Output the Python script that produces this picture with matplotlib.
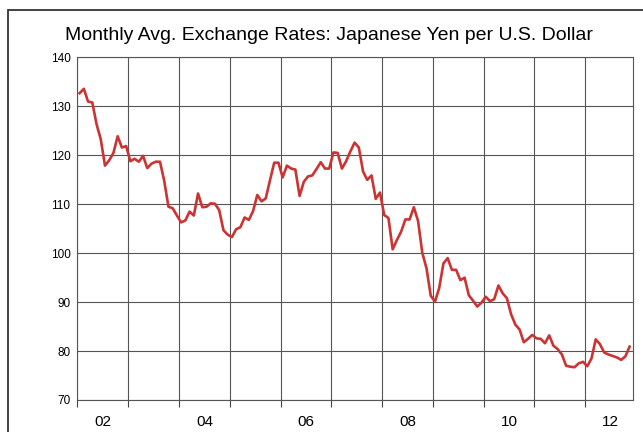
import matplotlib
matplotlib.use('Agg')
import matplotlib.pyplot as plt
from matplotlib.patches import Rectangle
import numpy as np

plt.rcParams['font.family'] = ['Liberation Sans', 'DejaVu Sans']

# Monthly average JPY per USD, Jan 2002 - Nov 2012
rates_2002 = [132.7, 133.6, 131.0, 130.8, 126.4, 123.3, 117.9, 119.0, 120.5, 123.9, 121.6, 121.9]
rates_2003 = [118.8, 119.3, 118.7, 119.9, 117.4, 118.3, 118.7, 118.7, 114.8, 109.5, 109.2, 107.7]
rates_2004 = [106.3, 106.7, 108.5, 107.7, 112.2, 109.4, 109.5, 110.2, 110.1, 108.8, 104.7, 103.8]
rates_2005 = [103.3, 104.9, 105.3, 107.3, 106.8, 108.6, 111.9, 110.6, 111.2, 114.9, 118.5, 118.5]
rates_2006 = [115.5, 117.9, 117.3, 117.1, 111.7, 114.6, 115.7, 115.9, 117.2, 118.6, 117.3, 117.3]
rates_2007 = [120.6, 120.5, 117.3, 118.8, 120.8, 122.6, 121.6, 116.7, 115.0, 115.9, 111.1, 112.4]
rates_2008 = [107.8, 107.2, 100.8, 102.7, 104.4, 106.9, 106.9, 109.4, 106.6, 100.1, 96.9, 91.3]
rates_2009 = [90.1, 92.9, 97.9, 99.0, 96.6, 96.6, 94.5, 95.0, 91.4, 90.3, 89.1, 89.9]
rates_2010 = [91.1, 90.2, 90.6, 93.4, 91.8, 90.8, 87.5, 85.4, 84.4, 81.8, 82.5, 83.3]
rates_2011 = [82.6, 82.5, 81.6, 83.2, 81.1, 80.4, 79.3, 77.0, 76.8, 76.7, 77.5, 77.8]
rates_2012 = [76.9, 78.5, 82.4, 81.4, 79.7, 79.3, 79.0, 78.7, 78.2, 78.9, 80.9]

year_labels = ['02', '04', '06', '08', '10', '12']
y_ticks = [70, 80, 90, 100, 110, 120, 130, 140]

rates = (rates_2002 + rates_2003 + rates_2004 + rates_2005 + rates_2006 + rates_2007
         + rates_2008 + rates_2009 + rates_2010 + rates_2011 + rates_2012)
months = np.arange(len(rates)) + 0.5

fig = plt.figure(figsize=(6.43, 4.32), dpi=100)
ax = fig.add_axes([0.1205, 0.0741, 0.8639, 0.7928])

# outer frame around the whole chart
fig.add_artist(Rectangle((8 / 643, -0.1), 1.2, 1 - 10 / 432 + 0.1,
                         transform=fig.transFigure, fill=False,
                         edgecolor='#333333', linewidth=1.3))

ax.plot(months, rates, color='#cc3333', linewidth=1.9, zorder=3)

ax.set_xlim(0, 131.3)
ax.set_ylim(70, 140)

# year boundaries carry grid lines and ticks, labels sit mid-year
ax.set_xticks(np.arange(0, 132, 12))
ax.set_xticklabels([])
ax.set_xticks(np.arange(6, 132, 24), minor=True)
ax.set_xticklabels(year_labels, minor=True)
ax.tick_params(axis='x', which='major', length=5, width=0.8, color='#444444', direction='out')
ax.tick_params(axis='x', which='minor', length=0, pad=11, labelsize=11)

ax.set_yticks(y_ticks)
ax.tick_params(axis='y', length=0, pad=5, labelsize=8.5)

ax.grid(True, which='major', color='#555555', linewidth=0.8)
for side in ['left', 'right', 'top', 'bottom']:
    ax.spines[side].set_color('#555555')
    ax.spines[side].set_linewidth(0.8)

fig.text(0.511, 0.918, 'Monthly Avg. Exchange Rates: Japanese Yen per U.S. Dollar',
         ha='center', va='center', fontsize=14)

fig.savefig('out.png', dpi=100)
